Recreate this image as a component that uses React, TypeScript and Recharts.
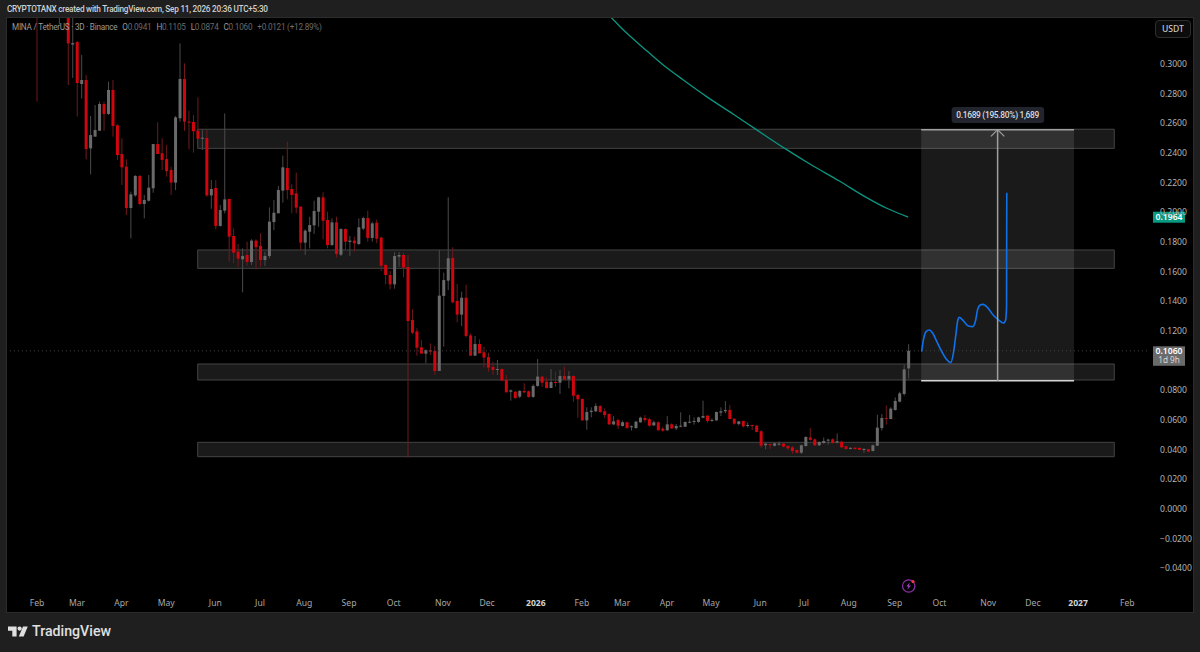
import { Bar, ComposedChart, Line, ReferenceArea, ReferenceDot, ReferenceLine, XAxis, YAxis } from 'recharts'

const FONT = '"Noto Sans", sans-serif'
const HEAD_FONT = 'Roboto, sans-serif'
const UP = '#6a6a6a'
const UP_WICK = '#4a4a4a'
const DOWN = '#d0060f'
const DOWN_WICK = '#6e1a1e'

const opens = [
  0.372, 0.345, 0.362, 0.352, 0.345, 0.34, 0.355, 0.345, 0.3125, 0.3142,
  0.2859, 0.2886, 0.2425, 0.2504, 0.2544, 0.2724, 0.2657, 0.2819, 0.258, 0.2387,
  0.2302, 0.2023, 0.2108, 0.2239, 0.205, 0.2072, 0.2156, 0.2454, 0.2392, 0.2353,
  0.2279, 0.2194, 0.2628, 0.2893, 0.2605, 0.2603, 0.2544, 0.249, 0.2495, 0.2108,
  0.2158, 0.1902, 0.2005, 0.2084, 0.1834, 0.1728, 0.1677, 0.1706, 0.1659, 0.1803,
  0.1767, 0.1672, 0.1699, 0.1928, 0.1987, 0.214, 0.2293, 0.2151, 0.2122, 0.2032,
  0.1789, 0.1863, 0.1906, 0.1998, 0.2095, 0.1942, 0.1773, 0.1926, 0.1708, 0.1881,
  0.1794, 0.1803, 0.178, 0.1884, 0.1955, 0.1821, 0.1924, 0.1823, 0.1639, 0.1571,
  0.1508, 0.1695, 0.1706, 0.1625, 0.1268, 0.1191, 0.1083, 0.1041, 0.1065, 0.1059,
  0.0924, 0.143, 0.1533, 0.1686, 0.1396, 0.1304, 0.1418, 0.1164, 0.1027, 0.1106,
  0.105, 0.1018, 0.0951, 0.0933, 0.0937, 0.0863, 0.0784, 0.0784, 0.0751, 0.0789,
  0.0787, 0.0749, 0.0823, 0.0886, 0.0852, 0.0809, 0.085, 0.0845, 0.089, 0.0868,
  0.089, 0.0762, 0.0735, 0.0591, 0.0647, 0.0652, 0.0688, 0.0652, 0.0634, 0.0564,
  0.0593, 0.0553, 0.0578, 0.0546, 0.0539, 0.0578, 0.0607, 0.0598, 0.0557, 0.0578,
  0.0535, 0.0524, 0.0564, 0.0537, 0.0548, 0.0548, 0.0575, 0.058, 0.058, 0.0609,
  0.0623, 0.0587, 0.0591, 0.0643, 0.0652, 0.0661, 0.0602, 0.0566, 0.0587, 0.0553,
  0.056, 0.0555, 0.0517, 0.0423, 0.0431, 0.042, 0.0429, 0.0434, 0.0418, 0.0409,
  0.0391, 0.0373, 0.0418, 0.0476, 0.0463, 0.0423, 0.0438, 0.0454, 0.0463, 0.0441,
  0.0447, 0.0416, 0.04, 0.0407, 0.0405, 0.0391, 0.0396, 0.0384, 0.042, 0.0539,
  0.0607, 0.06, 0.0661, 0.0717, 0.0769, 0.0941,
]
const highs = [
  0.39, 0.372, 0.385, 0.368, 0.362, 0.365, 0.37, 0.36, 0.335, 0.315,
  0.3055, 0.292, 0.2643, 0.2717, 0.274, 0.274, 0.2875, 0.2886, 0.2589, 0.2493,
  0.2351, 0.2133, 0.2245, 0.2245, 0.2111, 0.2245, 0.2454, 0.2601, 0.2493, 0.2448,
  0.2302, 0.2643, 0.3133, 0.2998, 0.2679, 0.265, 0.2769, 0.2549, 0.2549, 0.2212,
  0.2212, 0.2043, 0.2661, 0.2084, 0.1886, 0.178, 0.1751, 0.1796, 0.1812, 0.1812,
  0.1852, 0.1728, 0.2027, 0.2077, 0.2171, 0.2376, 0.247, 0.2183, 0.2261, 0.2032,
  0.1879, 0.1964, 0.2072, 0.2099, 0.2128, 0.1998, 0.1953, 0.1964, 0.1886, 0.1886,
  0.1834, 0.183, 0.1953, 0.1964, 0.2005, 0.1931, 0.1946, 0.183, 0.1645, 0.1598,
  0.1726, 0.1726, 0.1722, 0.1706, 0.134, 0.1212, 0.1133, 0.107, 0.111, 0.1092,
  0.174, 0.1587, 0.2095, 0.1758, 0.151, 0.1459, 0.1506, 0.1178, 0.116, 0.1137,
  0.1088, 0.1047, 0.0987, 0.0998, 0.0942, 0.0897, 0.08, 0.0787, 0.0796, 0.0841,
  0.0793, 0.0834, 0.1005, 0.089, 0.0881, 0.0937, 0.0919, 0.0931, 0.0953, 0.0924,
  0.0894, 0.0769, 0.074, 0.0679, 0.0679, 0.0706, 0.0692, 0.0672, 0.0638, 0.062,
  0.0602, 0.0589, 0.0582, 0.0557, 0.0587, 0.0616, 0.0627, 0.0607, 0.0589, 0.0584,
  0.0548, 0.062, 0.0571, 0.0566, 0.0645, 0.0584, 0.0627, 0.0611, 0.0616, 0.0724,
  0.0625, 0.0604, 0.065, 0.0679, 0.0721, 0.0694, 0.0605, 0.0587, 0.0589, 0.0577,
  0.0562, 0.056, 0.0526, 0.0436, 0.0434, 0.0438, 0.0447, 0.0441, 0.0423, 0.0418,
  0.0396, 0.0427, 0.0483, 0.0539, 0.0468, 0.0449, 0.0476, 0.0468, 0.047, 0.0503,
  0.0454, 0.042, 0.0411, 0.0409, 0.0409, 0.0405, 0.0398, 0.0427, 0.0629, 0.0634,
  0.0692, 0.0679, 0.0746, 0.0784, 0.0964, 0.1105,
]
const lows = [
  0.274, 0.338, 0.342, 0.336, 0.335, 0.326, 0.334, 0.2852, 0.29, 0.2639,
  0.2762, 0.2351, 0.225, 0.2504, 0.2544, 0.2544, 0.265, 0.2504, 0.2347, 0.2178,
  0.1976, 0.1818, 0.2099, 0.2043, 0.1953, 0.2066, 0.2126, 0.2387, 0.2279, 0.2234,
  0.2111, 0.2144, 0.2605, 0.2544, 0.2418, 0.2396, 0.249, 0.2414, 0.2099, 0.2018,
  0.1879, 0.1897, 0.1987, 0.1661, 0.165, 0.1627, 0.1454, 0.1632, 0.1638, 0.1609,
  0.1627, 0.1632, 0.1683, 0.1874, 0.1987, 0.2059, 0.2081, 0.1987, 0.1987, 0.174,
  0.1706, 0.1751, 0.1848, 0.1897, 0.1812, 0.1751, 0.1769, 0.169, 0.1699, 0.174,
  0.1699, 0.1728, 0.1773, 0.1874, 0.1796, 0.1796, 0.1785, 0.1598, 0.1508, 0.1475,
  0.1479, 0.1627, 0.1555, 0.0339, 0.1173, 0.1027, 0.1041, 0.0976, 0.1032, 0.0897,
  0.0924, 0.1088, 0.147, 0.138, 0.1252, 0.1227, 0.1151, 0.1027, 0.1027, 0.1043,
  0.0946, 0.0919, 0.0897, 0.0897, 0.0859, 0.078, 0.0724, 0.0735, 0.074, 0.0773,
  0.0744, 0.0744, 0.0818, 0.0818, 0.0805, 0.0809, 0.0818, 0.0769, 0.0863, 0.0807,
  0.0717, 0.0609, 0.0589, 0.0528, 0.0611, 0.0647, 0.0643, 0.0605, 0.056, 0.0558,
  0.0533, 0.0549, 0.0535, 0.0522, 0.0535, 0.0575, 0.0578, 0.0549, 0.0553, 0.0522,
  0.0515, 0.0521, 0.0533, 0.0526, 0.0544, 0.0546, 0.0571, 0.0562, 0.0575, 0.0605,
  0.0575, 0.0582, 0.0587, 0.062, 0.0638, 0.0598, 0.0562, 0.0557, 0.0542, 0.0542,
  0.0526, 0.051, 0.0405, 0.0396, 0.0398, 0.0414, 0.042, 0.0409, 0.0391, 0.0364,
  0.0369, 0.0364, 0.0414, 0.0454, 0.0418, 0.0418, 0.0434, 0.0427, 0.0434, 0.0436,
  0.0405, 0.0393, 0.0396, 0.0393, 0.0389, 0.0371, 0.0378, 0.0382, 0.0418, 0.0521,
  0.0562, 0.0598, 0.0656, 0.0712, 0.0758, 0.0874,
]
const closes = [
  0.345, 0.362, 0.352, 0.345, 0.34, 0.355, 0.345, 0.3133, 0.3135, 0.2866,
  0.2886, 0.2421, 0.2515, 0.2549, 0.2724, 0.2657, 0.2819, 0.2576, 0.238, 0.2297,
  0.2023, 0.2115, 0.2239, 0.205, 0.2077, 0.216, 0.2454, 0.2387, 0.2347, 0.2272,
  0.2194, 0.2634, 0.2893, 0.2605, 0.2598, 0.254, 0.249, 0.2497, 0.2108, 0.2151,
  0.1902, 0.2009, 0.2081, 0.183, 0.1722, 0.1681, 0.1699, 0.1659, 0.1803, 0.1758,
  0.1672, 0.1699, 0.1931, 0.1991, 0.2144, 0.2297, 0.2144, 0.2111, 0.2025, 0.1789,
  0.187, 0.1908, 0.2003, 0.2095, 0.1937, 0.1773, 0.1926, 0.1713, 0.1881, 0.1796,
  0.1803, 0.1785, 0.1893, 0.1955, 0.1821, 0.1919, 0.1816, 0.1634, 0.1571, 0.1508,
  0.1699, 0.1706, 0.1621, 0.1261, 0.1182, 0.1081, 0.1041, 0.1065, 0.1054, 0.0924,
  0.1432, 0.1537, 0.1684, 0.1387, 0.1304, 0.1418, 0.116, 0.1027, 0.1106, 0.1043,
  0.1014, 0.0946, 0.0931, 0.0937, 0.0859, 0.078, 0.0793, 0.0742, 0.0789, 0.078,
  0.0749, 0.0823, 0.0886, 0.0845, 0.0809, 0.085, 0.0845, 0.089, 0.0868, 0.089,
  0.0757, 0.0733, 0.0591, 0.0647, 0.0656, 0.0688, 0.0647, 0.0627, 0.0564, 0.0584,
  0.0555, 0.0578, 0.0539, 0.0551, 0.0582, 0.0609, 0.0593, 0.0555, 0.0578, 0.0524,
  0.0521, 0.0564, 0.0537, 0.0553, 0.0555, 0.058, 0.0582, 0.0587, 0.0611, 0.062,
  0.0587, 0.0593, 0.0647, 0.0652, 0.0661, 0.06, 0.0569, 0.0584, 0.0551, 0.056,
  0.0553, 0.0513, 0.042, 0.0434, 0.0423, 0.0436, 0.0434, 0.0414, 0.0402, 0.0384,
  0.0373, 0.0423, 0.0479, 0.0459, 0.0423, 0.0445, 0.0452, 0.0461, 0.0438, 0.045,
  0.0409, 0.0398, 0.0405, 0.0398, 0.0393, 0.0398, 0.038, 0.0423, 0.0542, 0.0607,
  0.0602, 0.067, 0.0722, 0.0773, 0.0935, 0.106,
]

const candles = opens.map((open, i) => ({ i, open, high: highs[i], low: lows[i], close: closes[i] }))

// moving average drawn on the original, candle index / price
const maIndex = [127, 128.4, 131.2, 135.6, 140.1, 144.6, 149.8, 155.8, 160.6, 167, 172.9, 179.6, 185.6, 190.1, 194.9]
const maPrice = [0.335, 0.3309, 0.3223, 0.3104, 0.2987, 0.2886, 0.2774, 0.2655, 0.2558, 0.243, 0.232, 0.2203, 0.2093, 0.2021, 0.1962]
const maData = maIndex.map((i, k) => ({ i, price: maPrice[k] }))

// hand drawn projection
const pathIndex = [197.9, 198.3, 198.9, 199.6, 200.4, 201.3, 202.4, 203.4, 204.4, 205, 205.6, 206, 206.3, 207.2, 208.4, 209.3, 210, 210.4, 211, 211.6, 212.8, 213.9, 215.1, 216.2, 216.7, 216.9, 216.95]
const pathPrice = [0.1054, 0.1133, 0.1189, 0.12, 0.1178, 0.1122, 0.1054, 0.1005, 0.098, 0.1043, 0.1178, 0.1268, 0.1286, 0.1263, 0.1227, 0.1223, 0.1268, 0.1335, 0.1369, 0.1373, 0.1346, 0.1301, 0.1268, 0.1247, 0.1268, 0.1358, 0.2126]
const pathData = pathIndex.map((i, k) => ({ i, price: pathPrice[k] }))

const zones = [
  [0.2425, 0.2554],
  [0.1616, 0.174],
  [0.0863, 0.0971],
  [0.0346, 0.0443],
]

// 0.1000 sits under the live price badge on the original, so it is left out
const priceTicks = [0.3, 0.28, 0.26, 0.24, 0.22, 0.2, 0.18, 0.16, 0.14, 0.12, 0.08, 0.06, 0.04, 0.02, 0, -0.02, -0.04]
const monthTicks = [0, 8.95, 18.9, 28.9, 39.9, 49.9, 59.8, 69.8, 79.8, 90.8, 100.7, 111.6, 121.9, 130.9, 140.9, 150.8, 161.8, 171.6, 181.6, 191.9, 201.9, 212.8, 222.8, 232.9, 243.9]
const monthLabels = ['Feb', 'Mar', 'Apr', 'May', 'Jun', 'Jul', 'Aug', 'Sep', 'Oct', 'Nov', 'Dec', '2026', 'Feb', 'Mar', 'Apr', 'May', 'Jun', 'Jul', 'Aug', 'Sep', 'Oct', 'Nov', 'Dec', '2027', 'Feb']

const X_MIN = -6.71
const X_MAX = 248.32
const Y_MIN = -0.05732
const Y_MAX = 0.33041

function Candle(props: any) {
  const { x, y, width, height, payload } = props
  const { open, close, high, low } = payload
  const perUnit = Math.abs(height) / (high - low)
  const top = Math.min(y, y + height)
  const toY = (v: number) => top + (high - v) * perUnit
  const up = close >= open
  const cx = x + width / 2
  const bodyTop = toY(Math.max(open, close))
  const bodyH = Math.max(Math.abs(toY(open) - toY(close)), 1)
  return (
    <g>
      <rect x={cx - 0.5} y={top} width={1} height={Math.abs(height)} fill={up ? UP_WICK : DOWN_WICK} />
      <rect x={cx - 1.5} y={bodyTop} width={3} height={bodyH} fill={up ? UP : DOWN} />
    </g>
  )
}

function PriceTick(props: any) {
  const { x, y, payload } = props
  const v = payload.value
  const text = v < 0 ? '\u2212' + Math.abs(v).toFixed(4) : v.toFixed(4)
  return (
    <text x={x + 7} y={y + 4} fill="#b4b4b4" fontSize={8.6} fontFamily={FONT}>{text}</text>
  )
}

function MonthTick(props: any) {
  const { x, y, payload } = props
  const k = monthTicks.indexOf(payload.value)
  const label = monthLabels[k]
  const isYear = label.length === 4
  return (
    <text x={x} y={y + 5} textAnchor="middle" fill={isYear ? '#d4d4d4' : '#a8a8a8'} fontSize={8.6} fontWeight={isYear ? 700 : 400} fontFamily={FONT}>{label}</text>
  )
}

function MaBadge(props: any) {
  const { cx, cy } = props
  return (
    <g>
      <rect x={cx + 6} y={cy - 5} width={32} height={11} fill="#089981" />
      <text x={cx + 22} y={cy + 3.2} textAnchor="middle" fill="#fff" fontSize={8.6} fontWeight={600} fontFamily={FONT}>0.1964</text>
    </g>
  )
}

function PriceBadge(props: any) {
  const { cx, cy } = props
  return (
    <g>
      <rect x={cx + 6} y={cy - 4.5} width={32} height={19.5} fill="#6a6a6a" />
      <text x={cx + 22} y={cy + 3.4} textAnchor="middle" fill="#fff" fontSize={8.6} fontWeight={600} fontFamily={FONT}>0.1060</text>
      <text x={cx + 22} y={cy + 12.4} textAnchor="middle" fill="#d8d8d8" fontSize={8.2} fontFamily={FONT}>1d 9h</text>
    </g>
  )
}

function MeasureLabel(props: any) {
  const { cx, cy } = props
  return (
    <g>
      <rect x={cx - 46} y={cy - 8} width={92.5} height={16} rx={3} fill="#22252e" />
      <text x={cx} y={cy + 3} textAnchor="middle" fill="#dcdcdc" fontSize={8.4} fontWeight={500} letterSpacing={-0.3} fontFamily={HEAD_FONT}>0.1689 (195.80%) 1,689</text>
    </g>
  )
}

export default function App() {
  return (
    <div style={{ position: 'absolute', left: 0, top: 0, width: 1200, height: 652, background: '#1f1f1f', overflow: 'hidden', fontFamily: HEAD_FONT }}>
      <div style={{ position: 'absolute', left: 7, top: 18, width: 1186, height: 594, background: '#000', boxShadow: '0 0 0 1px #2c2c2c' }} />

      <ComposedChart
        width={1200}
        height={652}
        data={candles}
        margin={{ top: 18, right: 7, bottom: 40, left: 7 }}
        style={{ position: 'absolute', left: 0, top: 0 }}
      >
        <XAxis
          type="number"
          dataKey="i"
          domain={[X_MIN, X_MAX]}
          allowDataOverflow
          ticks={monthTicks}
          tick={<MonthTick />}
          interval={0}
          height={19}
          axisLine={false}
          tickLine={false}
        />
        <YAxis
          orientation="right"
          domain={[Y_MIN, Y_MAX]}
          allowDataOverflow
          ticks={priceTicks}
          tick={<PriceTick />}
          interval={0}
          width={46}
          axisLine={false}
          tickLine={false}
          tickMargin={0}
        />

        {zones.map((z, k) => (
          <ReferenceArea key={k} x1={35.95} x2={241} y1={z[0]} y2={z[1]} fill="#ffffff" fillOpacity={0.1} stroke="#444444" strokeWidth={1} />
        ))}
        <ReferenceArea x1={197.8} x2={232} y1={0.0858} y2={0.2551} fill="#ffffff" fillOpacity={0.1} stroke="none" />
        <ReferenceLine y={0.106} stroke="#404040" strokeDasharray="1 3" strokeWidth={1} />

        <Bar dataKey={(d: any) => [d.low, d.high]} barSize={3} shape={<Candle />} isAnimationActive={false} />

        <Line data={maData} dataKey="price" type="monotone" stroke="#0b9580" strokeWidth={1.3} dot={false} isAnimationActive={false} />
        <Line data={pathData} dataKey="price" type="monotone" stroke="#0f72ea" strokeWidth={1.6} dot={false} isAnimationActive={false} />

        <ReferenceLine segment={[{ x: 197.8, y: 0.2551 }, { x: 232, y: 0.2551 }]} stroke="#a0a0a0" strokeWidth={1.5} />
        <ReferenceLine segment={[{ x: 197.8, y: 0.0858 }, { x: 232, y: 0.0858 }]} stroke="#d4d4d4" strokeWidth={1.5} />
        <ReferenceLine segment={[{ x: 214.9, y: 0.0858 }, { x: 214.9, y: 0.2551 }]} stroke="#a0a0a0" strokeWidth={1.5} />
        <ReferenceLine segment={[{ x: 214.9, y: 0.2551 }, { x: 213.41, y: 0.2506 }]} stroke="#a0a0a0" strokeWidth={1.2} />
        <ReferenceLine segment={[{ x: 214.9, y: 0.2551 }, { x: 216.39, y: 0.2506 }]} stroke="#a0a0a0" strokeWidth={1.2} />

        <ReferenceDot x={214.9} y={0.265} ifOverflow="visible" shape={<MeasureLabel />} />
        <ReferenceDot x={X_MAX} y={0.1964} ifOverflow="visible" shape={<MaBadge />} />
        <ReferenceDot x={X_MAX} y={0.106} ifOverflow="visible" shape={<PriceBadge />} />
      </ComposedChart>

      <div style={{ position: 'absolute', left: 7, top: 4, fontSize: 8.2, fontWeight: 500, letterSpacing: -0.24, color: '#d0d0d0', whiteSpace: 'nowrap' }}>
        CRYPTOTANX created with TradingView.com, Sep 11, 2026 20:36 UTC+5:30
      </div>
      <div style={{ position: 'absolute', left: 12, top: 22, fontSize: 8.2, letterSpacing: -0.25, color: '#9a9a9a', whiteSpace: 'nowrap' }}>
        MINA / TetherUS · 3D · Binance
        <span style={{ marginLeft: 5 }}>O</span><span style={{ color: '#6a6a6a' }}>0.0941</span>
        <span style={{ marginLeft: 5 }}>H</span><span style={{ color: '#6a6a6a' }}>0.1105</span>
        <span style={{ marginLeft: 5 }}>L</span><span style={{ color: '#6a6a6a' }}>0.0874</span>
        <span style={{ marginLeft: 5 }}>C</span><span style={{ color: '#6a6a6a' }}>0.1060</span>
        <span style={{ marginLeft: 5, color: '#6a6a6a' }}>+0.0121 (+12.89%)</span>
      </div>
      <div style={{ position: 'absolute', left: 1155, top: 20, width: 36, height: 18, boxSizing: 'border-box', border: '1px solid #2e2e2e', borderRadius: 4, background: '#0c0c0c', color: '#c8c8c8', fontSize: 8.6, fontWeight: 500, lineHeight: '16px', textAlign: 'center', fontFamily: FONT }}>
        USDT
      </div>

      <svg width={16} height={16} style={{ position: 'absolute', left: 901, top: 578 }}>
        <circle cx={7.7} cy={8} r={6.2} fill="none" stroke="#8e2fa8" strokeWidth={1.2} />
        <path d="M8.8 4.2 L5.4 8.6 L7.4 8.6 L6.4 11.8 L10 7.4 L7.9 7.4 Z" fill="#a040bc" />
        <circle cx={12} cy={3.6} r={1.6} fill="#f23645" />
      </svg>

      <svg width={22} height={12} style={{ position: 'absolute', left: 8, top: 626 }}>
        <path d="M0 0.5 H8.6 V10.5 H4.3 V4.8 H0 Z" fill="#e0e0e0" />
        <circle cx={11.6} cy={2.6} r={2.1} fill="#e0e0e0" />
        <path d="M15 0.5 H19.8 L15.6 10.5 H10.8 Z" fill="#e0e0e0" />
      </svg>
      <div style={{ position: 'absolute', left: 32, top: 623, fontSize: 14.2, fontWeight: 500, color: '#e0e0e0', whiteSpace: 'nowrap' }}>
        TradingView
      </div>
    </div>
  )
}
